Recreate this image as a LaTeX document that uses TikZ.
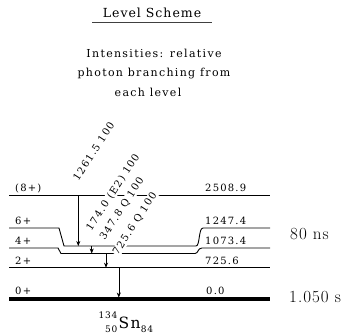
\documentclass[tikz,border=0pt]{standalone}
\usepackage{fontspec}
\setmainfont{DejaVu Serif}
\newfontfamily\lmr{Latin Modern Roman}
\usetikzlibrary{arrows.meta}
\begin{document}
\begin{tikzpicture}[x=1pt,y=-1pt,
  lvl/.style={line width=0.9pt, line join=round},
  gnd/.style={line width=3.6pt},
  trans/.style={line width=0.6pt, -{Stealth[length=5pt,width=4pt]}},
  tlab/.style={rotate=57, anchor=base west, inner sep=0.6pt, fill=white,
    font=\fontsize{10}{10}\selectfont\addfontfeature{LetterSpace=12}},
  llab/.style={anchor=base west, inner sep=0pt,
    font=\fontsize{10}{10}\selectfont\addfontfeature{LetterSpace=12}},
  hl/.style={anchor=base west, inner sep=0pt,
    font=\lmr\fontsize{17}{17}\selectfont\addfontfeature{LetterSpace=6}},
  head/.style={anchor=base, inner sep=0pt,
    font=\fontsize{11}{11}\selectfont\addfontfeature{LetterSpace=12}}
]
\fill[white] (0,0) rectangle (352,335);
\path[use as bounding box] (0,0) rectangle (352,335);

% title
\node[anchor=base, inner sep=0pt, font=\fontsize{12.5}{12.5}\selectfont\addfontfeature{LetterSpace=8}] (title) at (152,17.3) {Level Scheme};
\draw[line width=0.8pt, black!75] (92,22.7) -- (212,22.7);
\node[head] (int1) at (154,57.3) {Intensities: relative};
\node[head] (int2) at (154,76.6) {photon branching from};
\node[head] (int3) at (148,96) {each level};

% levels
\draw[lvl] (9,195) -- (270,195);
\draw[lvl] (9,228) -- (59,228) -- (64,246) -- (196,246)
  .. controls (200,246) and (198.5,228) .. (203,228) -- (270,228);
\draw[lvl] (9,248) -- (58,248) -- (61,253.5) -- (195,253.5)
  .. controls (198.5,253.5) and (197.5,248) .. (202,248) -- (270,248);
\draw[lvl] (9,267.7) -- (270,267.7);
\draw[gnd] (9,299) -- (270,299);

% level labels
\node[llab] (s8) at (15,191.5) {(8+)};
\node[llab] (s6) at (15,224.5) {6+};
\node[llab] (s4) at (15,244.5) {4+};
\node[llab] (s2) at (15,264) {2+};
\node[llab] (s0) at (15,294.5) {0+};
\node[llab] (e8) at (205,191.5) {2508.9};
\node[llab] (e6) at (205,224.5) {1247.4};
\node[llab] (e4) at (205,244.5) {1073.4};
\node[llab] (e2) at (205,264) {725.6};
\node[llab] (e0) at (206,294.5) {0.0};

% half-lives
\node[hl] (t6) at (290,239) {80 ns};
\node[hl] (t0) at (289,302) {1.050 s};

% transition labels
\node[tlab] (g1) at (78,182) {1261.5 100};
\node[tlab] (g2) at (91,232) {174.0 (E2) 100};
\node[tlab] (g3) at (104.5,241) {347.8 Q 100};
\node[tlab] (g4) at (117.5,256) {725.6 Q 100};

% transitions
\coordinate (a1s) at (78.3,195);  \coordinate (a1e) at (78.3,246);
\coordinate (a2s) at (91.7,246);  \coordinate (a2e) at (91.7,253.5);
\coordinate (a3s) at (106,253.5); \coordinate (a3e) at (106,267.7);
\coordinate (a4s) at (118.8,267.7); \coordinate (a4e) at (118.8,297.5);
\draw[trans] (a1s) -- (a1e);
\draw[trans] (a2s) -- (a2e);
\draw[trans] (a3s) -- (a3e);
\draw[trans] (a4s) -- (a4e);

% nucleus
\node[anchor=base east, inner sep=0pt, font=\fontsize{9}{9}\selectfont\addfontfeature{LetterSpace=8}] (mass) at (117.5,318) {134};
\node[anchor=base east, inner sep=0pt, font=\fontsize{9}{9}\selectfont\addfontfeature{LetterSpace=8}] (charge) at (117.5,332) {50};
\node[anchor=base west, inner sep=0pt, font=\fontsize{15.5}{15.5}\selectfont\addfontfeature{LetterSpace=8}] (sn) at (118.5,328) {Sn};
\node[anchor=base west, inner sep=0pt, font=\fontsize{9}{9}\selectfont\addfontfeature{LetterSpace=8}] (neut) at (sn.base east) {\raisebox{-4pt}{84}};
\end{tikzpicture}
\end{document}
